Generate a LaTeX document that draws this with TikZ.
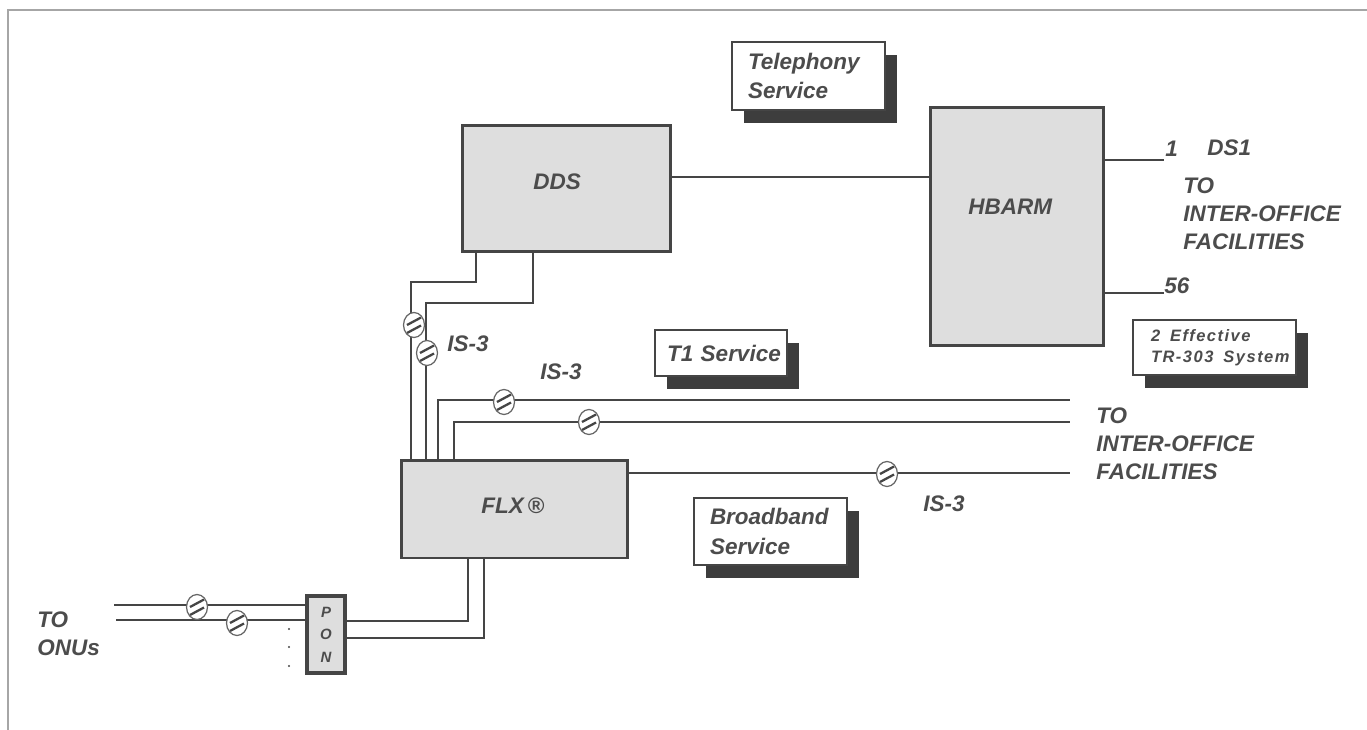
\documentclass[tikz,border=0pt]{standalone}
\usepackage{fontspec}
\setmainfont{Liberation Sans}
\usetikzlibrary{shapes.geometric,shadows}
\definecolor{inkgray}{gray}{0.27}
\definecolor{textgray}{gray}{0.3}
\definecolor{shadegray}{gray}{0.24}
\definecolor{boxgray}{gray}{0.87}
\tikzset{
    wire/.style={draw=inkgray, line width=1.7pt},
    unitbox/.style={draw=inkgray, fill=boxgray, line width=1.7pt, inner sep=0pt},
    svcbox/.style 2 args={draw=inkgray, fill=white, line width=1.6pt, font=\labelfont, text=textgray,
        minimum width=#1*0.02cm, minimum height=#2*0.02cm, text width=#1*0.02cm-0.64cm, inner xsep=0.32cm,
        inner ysep=0pt, align=left, anchor=center,
        drop shadow={shadow xshift=0.24cm, shadow yshift=-0.26cm, fill=shadegray, opacity=1}},
    tag/.style={font=\labelfont, text=textgray, align=left, anchor=west, inner sep=0pt},
    cutmark/.style={ellipse, draw=gray!80!black, fill=white, line width=0.7pt, minimum width=0.42cm, minimum height=0.5cm, inner sep=0pt,
        path picture={
            \draw[inkgray, line width=1.3pt] ([xshift=-0.14cm,yshift=0cm]path picture bounding box.center) -- ([xshift=0.14cm,yshift=0.15cm]path picture bounding box.center);
            \draw[inkgray, line width=1.3pt] ([xshift=-0.14cm,yshift=-0.16cm]path picture bounding box.center) -- ([xshift=0.14cm,yshift=-0.01cm]path picture bounding box.center);
        }},
}
\newcommand{\labelfont}{\fontsize{12.8}{15.8}\selectfont\bfseries\itshape}
\newcommand{\smallfont}{\fontsize{9.4}{11.9}\selectfont\bfseries\itshape\addfontfeature{LetterSpace=9}}
\begin{document}
\begin{tikzpicture}[x=0.02cm, y=-0.02cm]
    \useasboundingbox (0,0) rectangle (1367,730);
    \draw[gray!70, line width=0.8pt] (8,730) -- (8,10) -- (1367,10);

    % main units
    \node[unitbox, minimum width=4.18cm, minimum height=2.54cm] (dds) at (566.5,188.5) {};
    \node[unitbox, minimum width=3.48cm, minimum height=4.78cm] (hbarm) at (1017,226.5) {};
    \node[unitbox, minimum width=4.54cm, minimum height=1.96cm] (flx) at (514.5,509) {};
    \node[unitbox, line width=2pt, minimum width=0.76cm, minimum height=1.54cm, align=center, text=textgray, font=\fontsize{8.5}{12.8}\selectfont\bfseries\itshape] (pon) at (326,634.5) {P\\O\\N};

    % service boxes
    \node[svcbox={153}{68}] (telephony) at (808.5,76) {Telephony\\[1pt]Service};
    \node[svcbox={132}{46}, inner xsep=0.1cm, text width=2.44cm] (tone) at (721,353) {\hspace*{0.14cm}\mbox{T1 Service}};
    \node[svcbox={153}{67}] (broadband) at (770.5,531.5) {Broadband\\[1pt]Service};
    \node[svcbox={163}{55}, font=\smallfont, inner xsep=0.1cm, text width=3.06cm] (effective) at (1214.5,347.5) {\hspace*{0.26cm}2\hspace{0.6em}Effective\\\hspace*{0.26cm}TR-303\hspace{0.6em}System};

    % free ends
    \coordinate (dsA) at (1164,160);
    \coordinate (dsB) at (1164,293);
    \coordinate (trunkA) at (1070,400);
    \coordinate (trunkB) at (1070,422);
    \coordinate (trunkC) at (1070,473);
    \coordinate (onuA) at (114,605);
    \coordinate (onuB) at (116,620);

    \draw[wire] (dds.east |- 0,177) -- (hbarm.west |- 0,177);
    \draw[wire] (hbarm.east |- dsA) -- (dsA);
    \draw[wire] (hbarm.east |- dsB) -- (dsB);

    \draw[wire] (476,252) |- (411,282) -- (411,460);
    \draw[wire] (533,252) |- (426,303) -- (426,460);
    \draw[wire] (438,460) |- (trunkA);
    \draw[wire] (454,460) |- (trunkB);
    \draw[wire] (flx.east |- trunkC) -- (trunkC);

    \draw[wire] (onuA) -- (pon.west |- onuA);
    \draw[wire] (onuB) -- (pon.west |- onuB);
    \draw[wire] (pon.east |- 0,621) -| (468,558);
    \draw[wire] (pon.east |- 0,638) -| (484,558);

    % cut marks
    \node[cutmark] (cutA) at (414,325) {};
    \node[cutmark] (cutB) at (427,353) {};
    \node[cutmark] (cutC) at (504,402) {};
    \node[cutmark] (cutD) at (589,422) {};
    \node[cutmark] (cutE) at (887,474) {};
    \node[cutmark] (cutF) at (197,607) {};
    \node[cutmark] (cutG) at (237,623) {};

    % labels
    \node[tag] (lbldds) at (533,182) {DDS};
    \node[tag] (lblhbarm) at (968,207) {HBARM};
    \node[tag] (lblflx) at (481,506) {FLX\,®};
    \node[tag] (lblone) at (1165,149) {1};
    \node[tag] (lblds) at (1207,148) {DS1};
    \node[tag] (lblfac) at (1183,214) {TO\\INTER-OFFICE\\FACILITIES};
    \node[tag] (lblsix) at (1164,286) {56};
    \node[tag] (lbltwo) at (1096,444) {TO\\INTER-OFFICE\\FACILITIES};
    \node[tag] (lblisa) at (447,344) {IS-3};
    \node[tag] (lblisb) at (540,372) {IS-3};
    \node[tag] (lblisc) at (923,504) {IS-3};
    \node[tag] (lblonu) at (37,634) {TO\\ONUs};

    \foreach \ypos/\dotname in {629/dotA, 647/dotB, 666/dotC}
        \fill[inkgray] (289,\ypos) circle (0.6pt) coordinate (\dotname);
\end{tikzpicture}
\end{document}
